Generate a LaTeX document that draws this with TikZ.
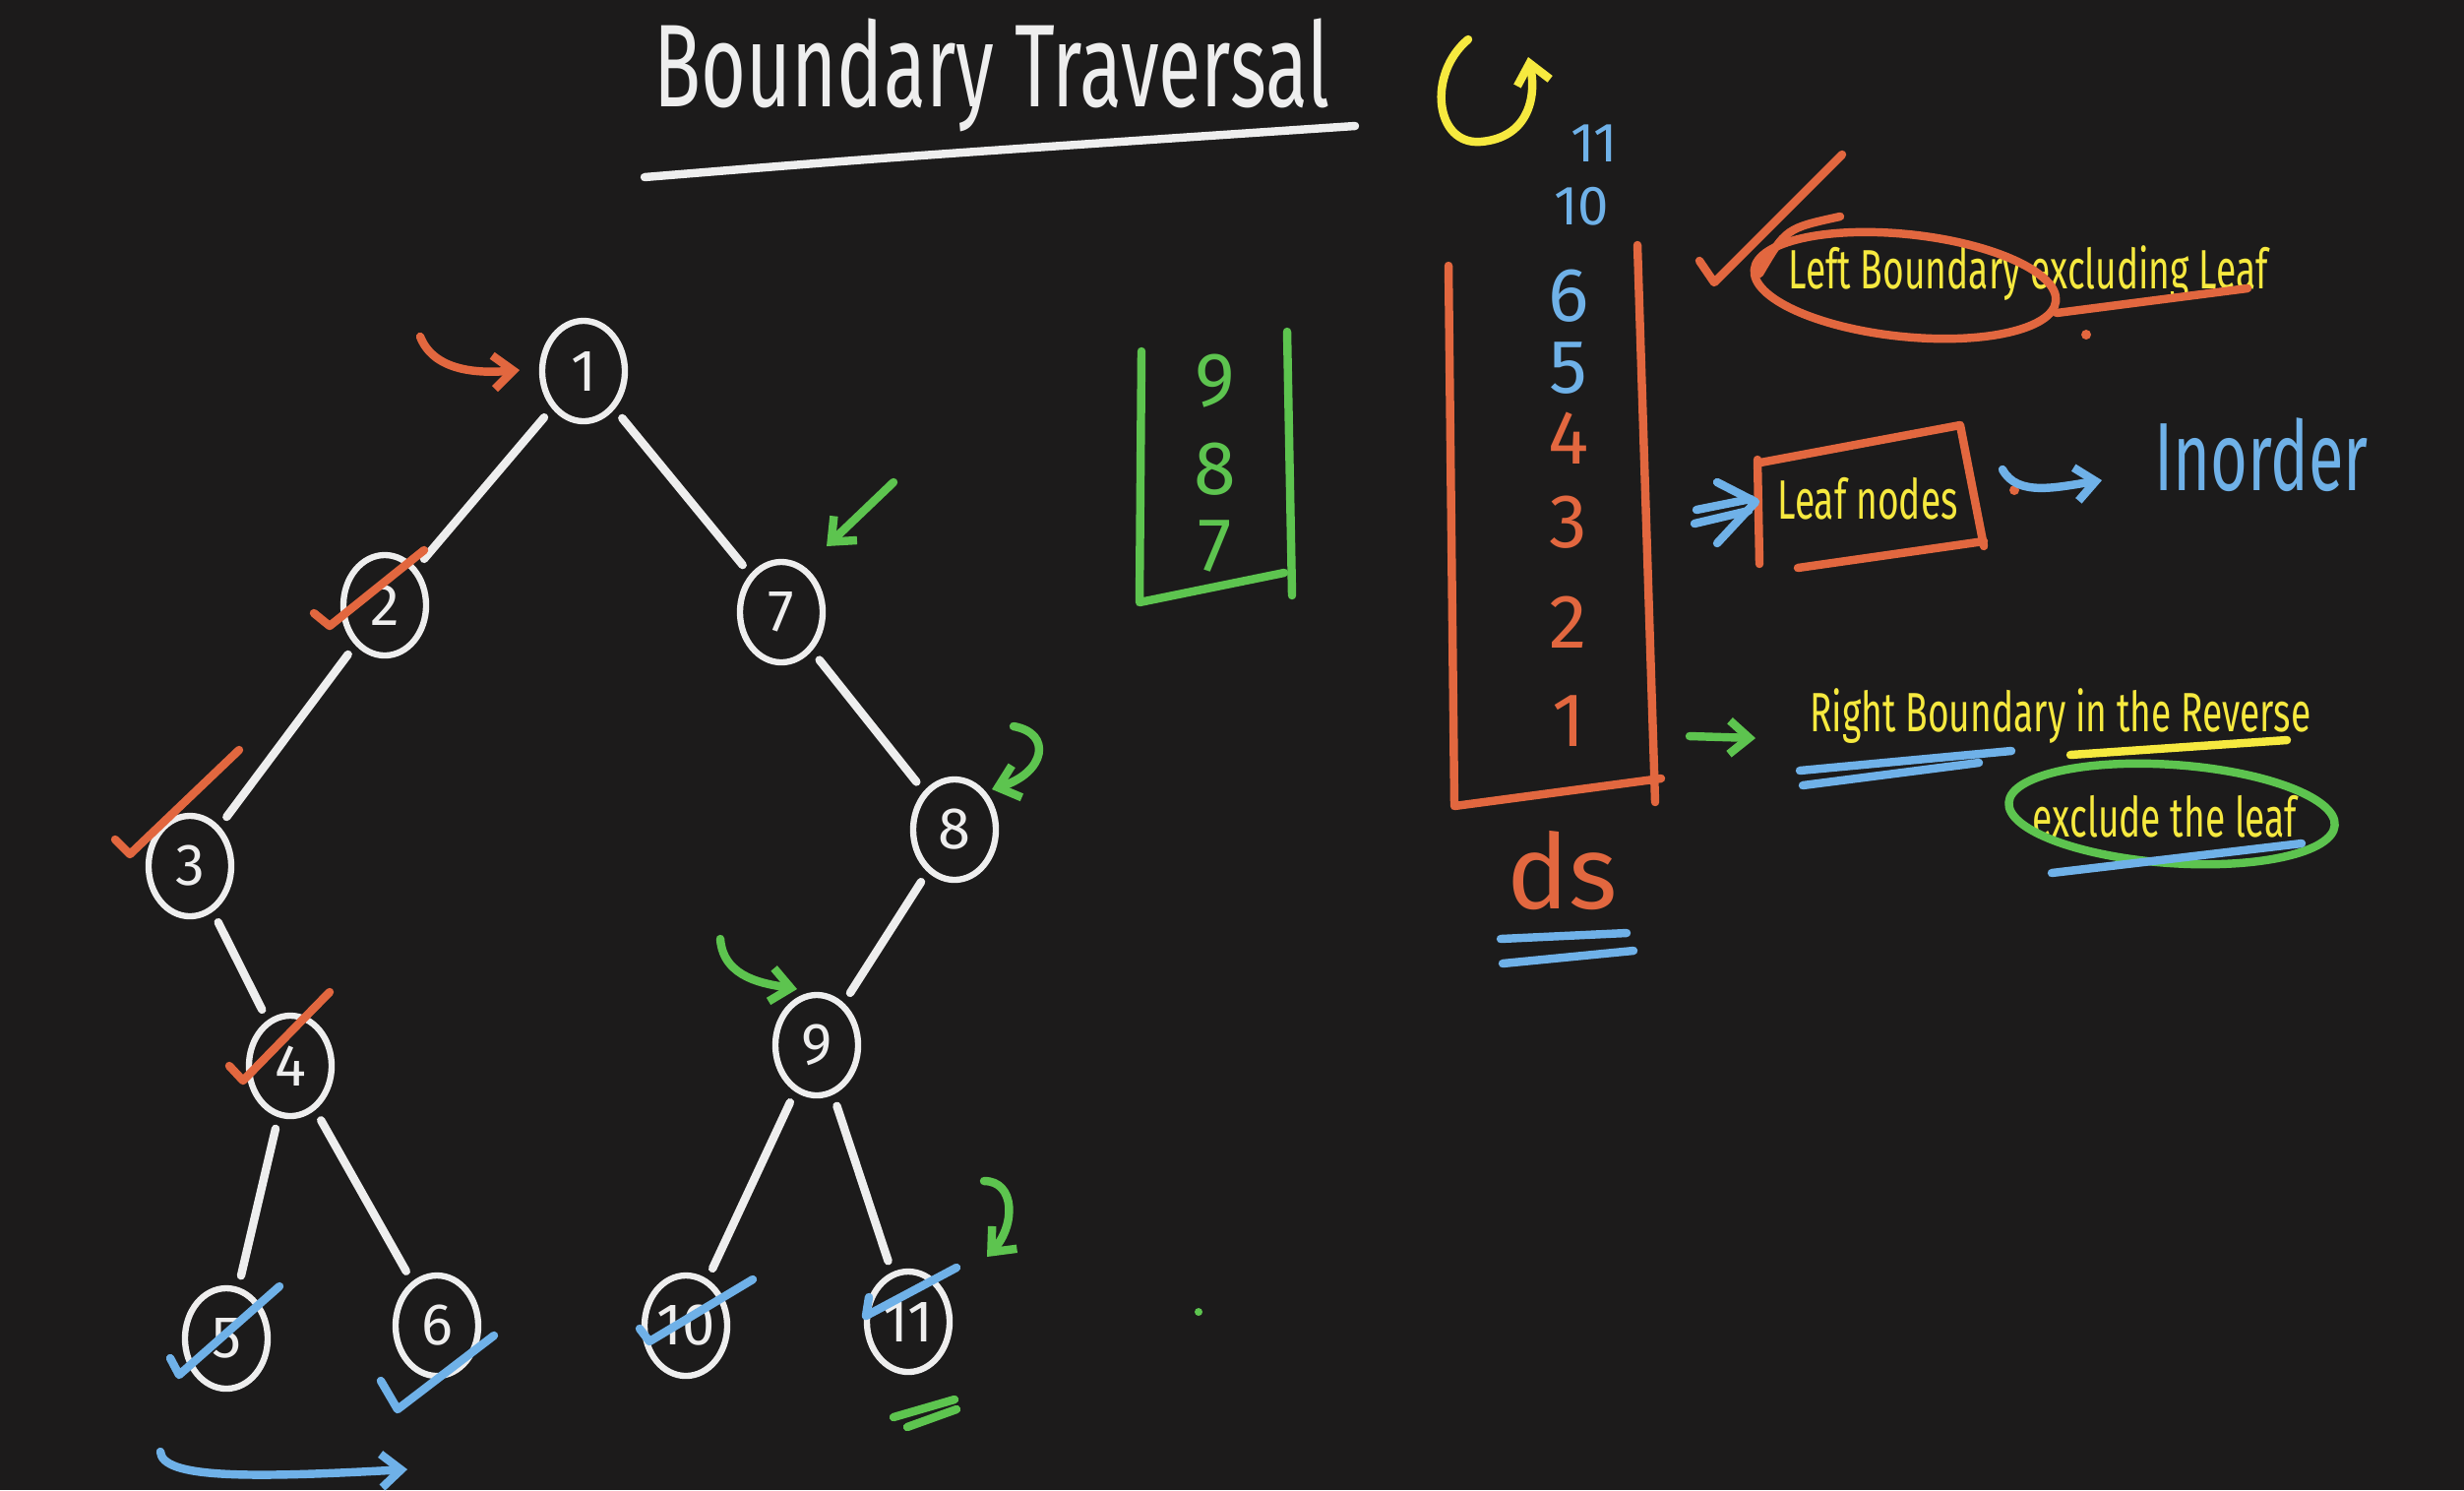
\documentclass[tikz,border=0pt]{standalone}
\usepackage{fontspec}
\setmainfont{Fira Sans}
\usepackage{graphicx}
\usetikzlibrary{arrows.meta,shapes.geometric}

\definecolor{board}{HTML}{1C1B1B}
\definecolor{chalk}{HTML}{EEEEEE}
\definecolor{mkorange}{HTML}{E2673F}
\definecolor{mkgreen}{HTML}{5DC44F}
\definecolor{mkblue}{HTML}{6FB1E8}
\definecolor{mkyellow}{HTML}{F6E93F}

\newcommand{\hand}[1]{\scalebox{0.66}[1]{#1}}

\tikzset{
  marker/.style={line width=2.4pt, line cap=round, line join=round},
  treenode/.style={draw=chalk, ellipse, line width=1.8pt, minimum width=0.84cm,
    minimum height=1.02cm, inner sep=0pt, text=chalk, font=\fontsize{17}{17}\selectfont},
  branch/.style={marker, draw=chalk, shorten <=0.12cm, shorten >=0.12cm},
  barb/.style={-{Straight Barb[length=0.2cm,width=0.34cm]}},
  notetext/.style={text=mkyellow, font=\fontsize{16}{16}\selectfont},
  stackdigit/.style={font=\fontsize{22}{22}\selectfont}
}

\begin{document}
\begin{tikzpicture}[x=0.01cm, y=-0.01cm]

\fill[board] (0,0) rectangle (2504,1514);
\useasboundingbox (0,0) rectangle (2504,1514);

% title
\node[text=chalk, font=\fontsize{34}{34}\selectfont] (title) at (1008,76) {\hand{Boundary Traversal}};
\draw[marker, chalk] (655,180) .. controls (900,160) .. (1377,128);
\draw[marker, mkyellow, barb] (1492,40) .. controls (1450,75) and (1458,148) .. (1505,144)
  .. controls (1552,140) and (1562,100) .. (1553,58);

% tree
\node[treenode] (n1) at (593,377) {1};
\node[treenode] (n2) at (391,615) {2};
\node[treenode] (n7) at (794,622) {7};
\node[treenode] (n3) at (193,880) {3};
\node[treenode] (n8) at (970,843) {8};
\node[treenode] (n4) at (295,1083) {4};
\node[treenode] (n9) at (830,1062) {9};
\node[treenode] (n5) at (230,1360) {5};
\node[treenode] (n6) at (444,1347) {6};
\node[treenode] (n10) at (697,1347) {10};
\node[treenode] (n11) at (923,1343) {11};

\foreach \a/\b in {n1/n2, n1/n7, n2/n3, n3/n4, n4/n5, n4/n6, n7/n8, n8/n9, n9/n10, n9/n11}
  \draw[branch] (\a) -- (\b);

% left boundary ticks
\draw[marker, mkorange] (319,623) -- (335,636) -- (431,559);
\draw[marker, mkorange] (117,853) -- (132,868) -- (243,762);
\draw[marker, mkorange] (233,1083) -- (247,1098) -- (335,1008);

% leaf ticks
\draw[marker, mkblue] (173,1380) -- (182,1397) -- (284,1307);
\draw[marker, mkblue] (387,1403) -- (404,1432) -- (502,1357);
\draw[marker, mkblue] (650,1350) -- (660,1363) -- (765,1300);
\draw[marker, mkblue] (883,1318) -- (880,1337) -- (972,1288);

% pointers
\draw[marker, mkorange, barb] (427,342) .. controls (440,375) and (480,380) .. (528,376);
\draw[marker, mkgreen, barb] (908,490) -- (840,555);
\draw[marker, mkgreen, barb] (1030,738) .. controls (1070,745) and (1062,785) .. (1008,802);
\draw[marker, mkgreen, barb] (732,954) .. controls (735,995) and (780,1000) .. (810,1005);
\draw[marker, mkgreen, barb] (1000,1200) .. controls (1032,1200) and (1032,1245) .. (1003,1277);
\draw[marker, mkblue, barb] (163,1475) .. controls (165,1502) and (250,1502) .. (414,1493);
\draw[marker, mkgreen] (908,1440) -- (970,1422) (922,1450) -- (972,1432);
\fill[mkgreen] (1218,1333) circle (4);

% right boundary stack
\draw[marker, mkgreen] (1160,357) -- (1158,612) -- (1305,582);
\draw[marker, mkgreen] (1308,337) -- (1313,605);
\foreach \v/\py in {9/387, 8/477, 7/555}
  \node[stackdigit, text=mkgreen] (g\v) at (1235,\py) {\v};

% answer stack
\draw[marker, mkorange] (1472,270) -- (1478,819) -- (1688,791);
\draw[marker, mkorange] (1664,249) -- (1682,815);
\node[text=mkblue, font=\fontsize{16}{16}\selectfont] (s11) at (1620,146) {11};
\node[text=mkblue, font=\fontsize{16}{16}\selectfont] (s10) at (1607,210) {10};
\foreach \v/\py/\c in {6/301/mkblue, 5/374/mkblue, 4/445/mkorange, 3/531/mkorange, 2/632/mkorange, 1/733/mkorange}
  \node[stackdigit, text=\c] (s\v) at (1594,\py) {\v};
\node[text=mkorange, font=\fontsize{30}{30}\selectfont] (ds) at (1588,885) {ds};
\draw[marker, mkblue] (1525,954) -- (1653,948) (1527,979) -- (1660,966);

% notes
\node[notetext, anchor=west] (leftb) at (1805,278) {\hand{Left Boundary excluding Leaf}};
\draw[marker, mkorange, rotate around={-6:(1936,290)}] (1936,290) ellipse [x radius=154, y radius=52];
\draw[marker, mkorange] (1870,220) .. controls (1815,232) .. (1788,278);
\draw[marker, mkorange] (1727,265) -- (1742,287) -- (1872,157);
\draw[marker, mkorange] (2090,318) -- (2284,293);
\fill[mkorange] (2120,340) circle (5);

\node[notetext] (leaf) at (1898,507) {\hand{Leaf nodes}};
\draw[marker, mkorange] (1786,467) -- (1788,573);
\draw[marker, mkorange] (1789,470) -- (1992,432) -- (2016,555);
\draw[marker, mkorange] (1827,577) -- (2016,550);
\draw[marker, mkblue] (1724,518) -- (1779,507) (1722,532) -- (1777,519);
\draw[marker, mkblue] (1745,490) -- (1784,510) -- (1745,552);
\fill[mkorange] (2047,498) circle (5);
\draw[marker, mkblue, barb] (2035,477) .. controls (2050,505) and (2090,495) .. (2136,488);
\node[text=mkblue, font=\fontsize{28}{28}\selectfont] (inord) at (2298,462) {\hand{Inorder}};

\draw[marker, mkgreen, barb] (1717,748) -- (1784,750);
\node[notetext, anchor=west] (rightb) at (1827,728) {\hand{Right Boundary in the Reverse}};
\draw[marker, mkblue] (1829,783) -- (2044,763) (1832,798) -- (2011,775);
\draw[marker, mkyellow] (2104,767) -- (2324,752);
\node[notetext] (excl) at (2200,830) {\hand{exclude the leaf}};
\draw[marker, mkgreen, rotate around={-4:(2207,827)}] (2207,827) ellipse [x radius=166, y radius=50];
\draw[marker, mkblue] (2085,887) -- (2339,857);

\end{tikzpicture}
\end{document}
